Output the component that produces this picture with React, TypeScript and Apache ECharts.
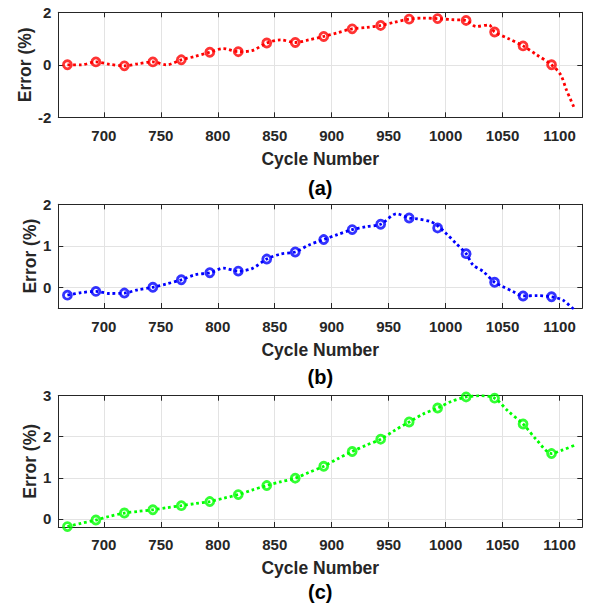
import React, { useEffect, useRef } from 'react';
import * as echarts from 'echarts';

// ---------- data ----------
const markerCycles = [668, 693, 718, 743, 768, 793, 818, 843, 868, 893, 918, 943, 968, 993, 1018, 1043, 1068, 1093];
const xTicks = [700, 750, 800, 850, 900, 950, 1000, 1050, 1100];

// (a)
const aMarkerErr = [0, 0.11, -0.04, 0.11, 0.19, 0.48, 0.5, 0.83, 0.85, 1.08, 1.37, 1.5, 1.74, 1.76, 1.69, 1.25, 0.72, 0.0];
const aLineCycles = [668, 680, 693, 705, 718, 730, 743, 755, 768, 780, 793, 805, 818, 830, 843, 855, 868, 880, 893, 905, 918, 930, 943, 955, 968, 980, 993, 1005, 1018, 1027, 1038, 1043, 1055, 1068, 1080, 1093, 1101, 1106, 1113];
const aLineErr = [0, 0.0, 0.11, 0.02, -0.04, 0.04, 0.11, 0.0, 0.19, 0.32, 0.48, 0.62, 0.5, 0.54, 0.83, 0.95, 0.85, 0.95, 1.08, 1.22, 1.37, 1.42, 1.5, 1.62, 1.74, 1.78, 1.76, 1.72, 1.69, 1.46, 1.52, 1.25, 1.0, 0.72, 0.38, 0.0, -0.38, -0.95, -1.65];
const aYTicks = [-2, 0, 2];

// (b)
const bMarkerErr = [-0.19, -0.1, -0.14, 0.0, 0.18, 0.35, 0.39, 0.68, 0.85, 1.15, 1.39, 1.52, 1.67, 1.43, 0.81, 0.12, -0.21, -0.23];
const bLineCycles = [668, 680, 693, 705, 718, 730, 743, 755, 768, 780, 793, 805, 818, 830, 843, 855, 868, 880, 893, 905, 918, 930, 943, 957, 968, 975, 987, 993, 1000, 1009, 1018, 1024, 1033, 1043, 1050, 1059, 1068, 1080, 1093, 1103, 1113];
const bLineErr = [-0.19, -0.13, -0.1, -0.15, -0.14, -0.06, 0.0, 0.08, 0.18, 0.3, 0.35, 0.46, 0.39, 0.45, 0.68, 0.8, 0.85, 1.02, 1.15, 1.27, 1.39, 1.46, 1.52, 1.77, 1.67, 1.65, 1.58, 1.48, 1.31, 1.06, 0.81, 0.54, 0.38, 0.12, 0.02, -0.1, -0.21, -0.2, -0.23, -0.31, -0.55];
const bYTicks = [0, 1, 2];

// (c)
const cMarkerErr = [-0.19, -0.03, 0.14, 0.22, 0.32, 0.42, 0.59, 0.81, 0.99, 1.28, 1.64, 1.94, 2.36, 2.7, 2.97, 2.94, 2.31, 1.59];
const cLineCycles = [668, 680, 693, 705, 718, 730, 743, 755, 768, 780, 793, 805, 818, 830, 843, 855, 868, 880, 893, 905, 918, 930, 943, 955, 968, 980, 993, 1005, 1018, 1030, 1043, 1055, 1068, 1080, 1093, 1103, 1113];
const cLineErr = [-0.19, -0.11, -0.03, 0.06, 0.14, 0.18, 0.22, 0.27, 0.32, 0.37, 0.42, 0.5, 0.59, 0.7, 0.81, 0.9, 0.99, 1.13, 1.28, 1.46, 1.64, 1.79, 1.94, 2.15, 2.36, 2.55, 2.7, 2.86, 2.97, 3.0, 2.94, 2.62, 2.31, 1.92, 1.59, 1.68, 1.79];
const cYTicks = [0, 1, 2, 3];

const panelLabels = ['(a)', '(b)', '(c)'];
const xName = 'Cycle Number';
const yName = 'Error (%)';

// ---------- styling ----------
const FONT = '"Liberation Sans", Arial, Helvetica, sans-serif';
const TXT = '#262626';
const GRIDC = '#e3e3e3';

const panels = [
  { top: 12.3, height: 105, ymin: -2, ymax: 2, yTicks: aYTicks, color: '#ff0000', mk: aMarkerErr, lc: aLineCycles, lv: aLineErr, yLabelX: 25, nameY: 159.3, labelY: 188.3, margin: 11 },
  { top: 204.3, height: 103.7, ymin: -0.5, ymax: 2, yTicks: bYTicks, color: '#0000ff', mk: bMarkerErr, lc: bLineCycles, lv: bLineErr, yLabelX: 29.5, nameY: 350, labelY: 376.7, margin: 11 },
  { top: 395.7, height: 131.3, ymin: -0.2, ymax: 3, yTicks: cYTicks, color: '#00ff00', mk: cMarkerErr, lc: cLineCycles, lv: cLineErr, yLabelX: 29.5, nameY: 568.3, labelY: 591.7, margin: 10 },
];

const LEFT = 58.3;
const WIDTH = 524;
const XMIN = 660;
const XMAX = 1120;

const plain = (v: number) => String(v);

export default function App() {
  const ref = useRef<HTMLDivElement>(null);
  useEffect(() => {
    const chart = echarts.init(ref.current!, null, { renderer: 'svg' });
    const grid: any[] = [];
    const xAxis: any[] = [];
    const yAxis: any[] = [];
    const series: any[] = [];
    const graphic: any[] = [];

    panels.forEach((p, i) => {
      grid.push({ left: LEFT, top: p.top, width: WIDTH, height: p.height, containLabel: false });
      const axLine = { show: true, onZero: false, lineStyle: { color: TXT, width: 1 } };
      xAxis.push({
        type: 'value', gridIndex: i, position: 'bottom', min: XMIN, max: XMAX,
        axisLine: axLine,
        axisTick: { show: true, inside: true, length: 5, customValues: xTicks, lineStyle: { color: TXT } },
        axisLabel: { show: true, customValues: xTicks, formatter: plain, margin: p.margin, color: TXT, fontSize: 15, fontWeight: 'bold', fontFamily: FONT },
        splitLine: { show: true, lineStyle: { color: GRIDC, width: 1 } },
      });
      xAxis.push({
        type: 'value', gridIndex: i, position: 'top', min: XMIN, max: XMAX,
        axisLine: axLine,
        axisTick: { show: true, inside: true, length: 5, customValues: xTicks, lineStyle: { color: TXT } },
        axisLabel: { show: false },
        splitLine: { show: false },
      });
      yAxis.push({
        type: 'value', gridIndex: i, position: 'left', min: p.ymin, max: p.ymax,
        axisLine: axLine,
        axisTick: { show: true, inside: true, length: 5, customValues: p.yTicks, lineStyle: { color: TXT } },
        axisLabel: { show: true, customValues: p.yTicks, formatter: plain, margin: 7, color: TXT, fontSize: 15, fontWeight: 'bold', fontFamily: FONT },
        splitLine: { show: true, lineStyle: { color: GRIDC, width: 1 } },
      });
      yAxis.push({
        type: 'value', gridIndex: i, position: 'right', min: p.ymin, max: p.ymax,
        axisLine: axLine,
        axisTick: { show: true, inside: true, length: 5, customValues: p.yTicks, lineStyle: { color: TXT } },
        axisLabel: { show: false },
        splitLine: { show: false },
      });
      series.push({
        type: 'line', xAxisIndex: 2 * i, yAxisIndex: 2 * i,
        data: p.lc.map((c, k) => [c, p.lv[k]]),
        showSymbol: false, symbol: 'none', smooth: 0.3, clip: true,
        lineStyle: { color: p.color, width: 2.8, type: [2.8, 2.9] },
        z: 3,
      });
      series.push({
        type: 'scatter', xAxisIndex: 2 * i, yAxisIndex: 2 * i,
        data: markerCycles.map((c, k) => [c, p.mk[k]]),
        symbol: 'circle', symbolSize: 8,
        itemStyle: { color: 'rgba(255,255,255,0)', borderColor: p.color, borderWidth: 2.8 },
        z: 4,
      });
      graphic.push({
        type: 'text', x: p.yLabelX, y: p.top + p.height / 2, rotation: Math.PI / 2,
        style: { text: yName, fill: TXT, fontSize: 17.5, fontWeight: 'bold', fontFamily: FONT, align: 'center', verticalAlign: 'middle' },
      });
      graphic.push({
        type: 'text', x: LEFT + WIDTH / 2, y: p.nameY,
        style: { text: xName, fill: TXT, fontSize: 17.5, fontWeight: 'bold', fontFamily: FONT, align: 'center', verticalAlign: 'middle' },
      });
      graphic.push({
        type: 'text', x: LEFT + WIDTH / 2, y: p.labelY,
        style: { text: panelLabels[i], fill: '#000000', fontSize: 20, fontWeight: 'bold', fontFamily: FONT, align: 'center', verticalAlign: 'middle' },
      });
    });

    chart.setOption({
      animation: false,
      backgroundColor: '#ffffff',
      grid, xAxis, yAxis, series, graphic,
    });
    return () => chart.dispose();
  }, []);
  return <div ref={ref} style={{ position: 'fixed', left: 0, top: 0, width: 591, height: 603 }} />;
}
